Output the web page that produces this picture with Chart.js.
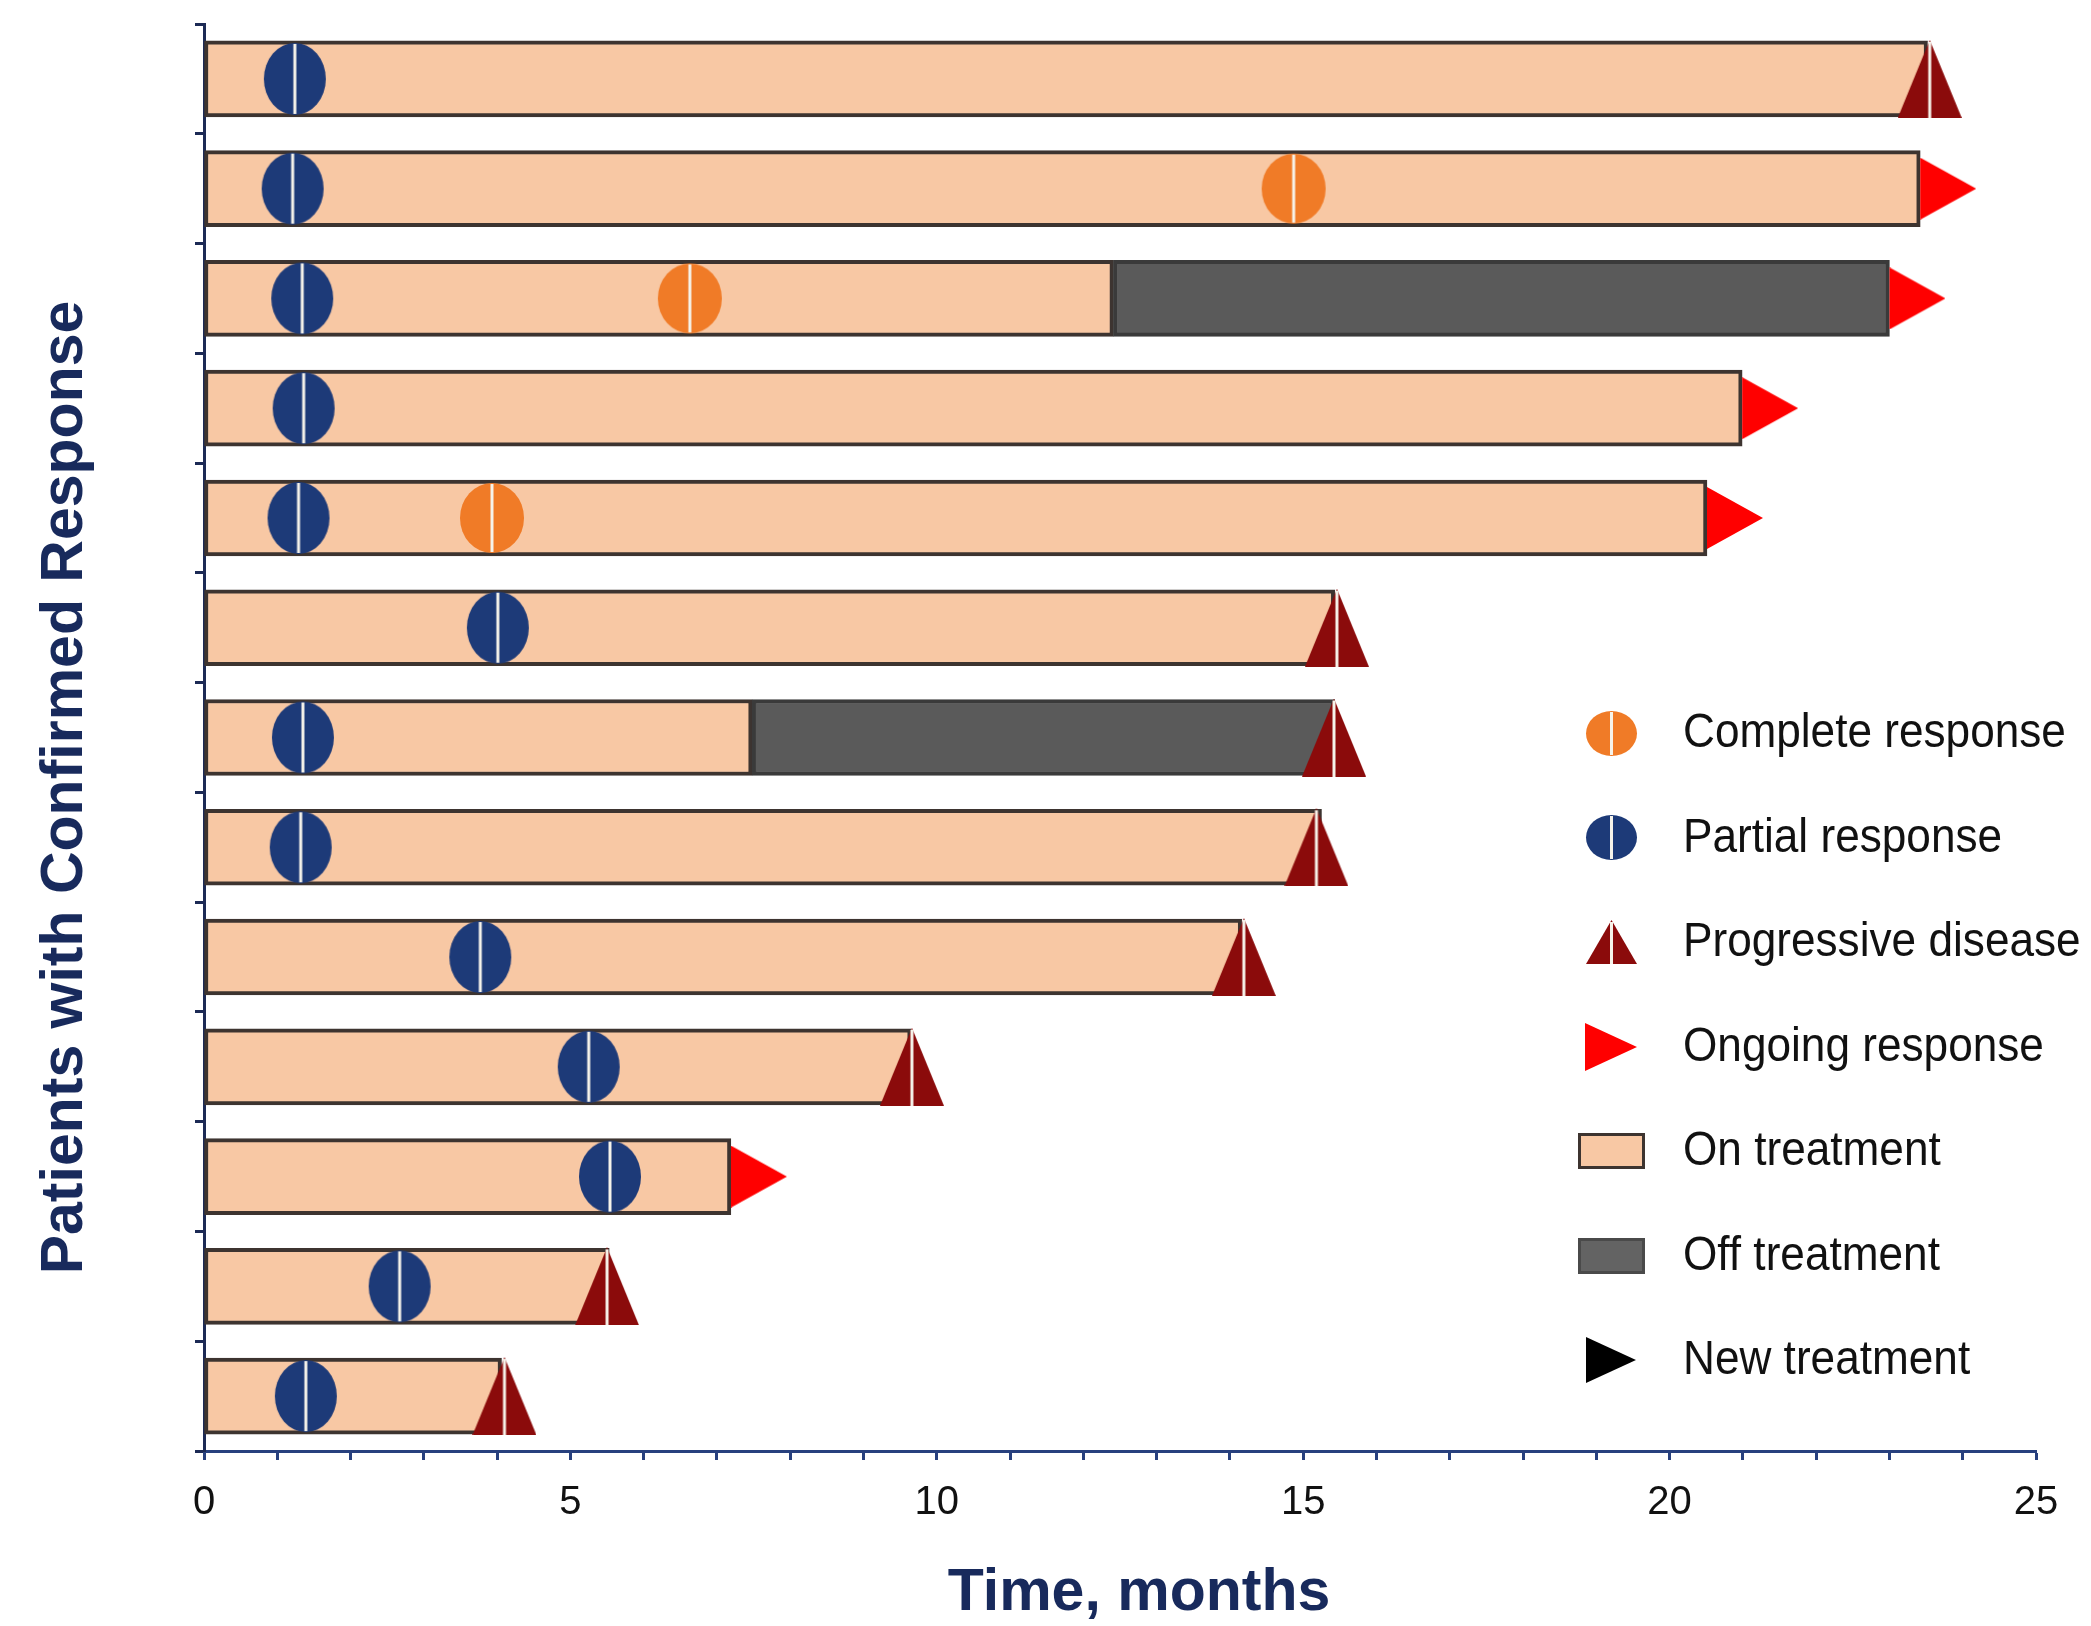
<!DOCTYPE html>
<html>
<head>
<meta charset="utf-8">
<title>Patients with Confirmed Response – time on treatment</title>
<script src="https://cdn.jsdelivr.net/npm/chart.js@4.4.1/dist/chart.umd.min.js"></script>
<style>
  html, body { margin: 0; padding: 0; background: #ffffff; }
  #wrap { width: 2091px; height: 1626px; }
  canvas { display: block; }
</style>
</head>
<body>
<div id="wrap"><canvas id="chart" width="2091" height="1626"></canvas></div>
<script>
// One row per patient, listed top to bottom
const patients = ['Pt 1', 'Pt 2', 'Pt 3', 'Pt 4', 'Pt 5', 'Pt 6', 'Pt 7',
                  'Pt 8', 'Pt 9', 'Pt 10', 'Pt 11', 'Pt 12', 'Pt 13'];

// Time on treatment (months from start)
const onTreatmentEnd = [23.52, 23.42, 12.41, 20.99, 20.51, 15.43, 7.48, 15.25, 14.16, 9.65, 7.19, 5.53, 4.06];

// Follow-up after stopping treatment (null = none)
const offTreatmentStart = [null, null, 12.41, null, null, null, 7.48, null, null, null, null, null, null];
const offTreatmentEnd   = [null, null, 23.00, null, null, null, 15.43, null, null, null, null, null, null];

// Response assessments, months (null = no event in that row)
const completeResponse   = [null, 14.87, 6.63, null, 3.93, null, null, null, null, null, null, null, null];
const partialResponse    = [1.24, 1.21, 1.34, 1.36, 1.29, 4.01, 1.35, 1.32, 3.77, 5.25, 5.54, 2.67, 1.39];
const progressiveDisease = [23.55, null, null, null, null, 15.46, 15.42, 15.18, 14.19, 9.66, null, 5.50, 4.10];
const ongoingResponse    = [null, 23.42, 23.00, 20.99, 20.51, null, null, null, null, null, 7.19, null, null];

// Time axis
const xMin = 0, xMax = 25, xStep = 1, xLabelEvery = 5;
const xTitle = 'Time, months';
const yTitle = 'Patients with Confirmed Response';

// Legend entries
const legendLabels = ['Complete response', 'Partial response', 'Progressive disease',
                      'Ongoing response', 'On treatment', 'Off treatment', 'New treatment'];

// ---- colours ----
const C = {
  onFill: '#f8c8a4', onBorder: '#3d3430',
  offFill: '#5a5a5a', offBorder: '#3a3a3a',
  cr: '#f07b27', pr: '#1d3a78', pd: '#8b0b0b', ongoing: '#ff0000', newTx: '#000000',
  split: '#f6f3ea', axisY: '#1c2a55', axisX: '#27407e', title: '#182a5c', text: '#111111'
};
const FONT = '"Liberation Sans", Arial, Helvetica, sans-serif';

// ---- marker glyphs (drawn once, used as Chart.js point styles) ----
function glyph(w, h, draw) {
  const c = document.createElement('canvas');
  c.width = w; c.height = h;
  draw(c.getContext('2d'), w, h);
  return c;
}
function splitLine(ctx, x, y0, y1) {
  ctx.strokeStyle = C.split; ctx.lineWidth = 3;
  ctx.beginPath(); ctx.moveTo(x, y0); ctx.lineTo(x, y1); ctx.stroke();
}
function ellipseGlyph(color, w, h) {
  return glyph(w, h, (ctx) => {
    ctx.fillStyle = color;
    ctx.beginPath(); ctx.ellipse(w / 2, h / 2, w / 2 - 1, h / 2 - 1, 0, 0, Math.PI * 2); ctx.fill();
    splitLine(ctx, w / 2, 2, h - 2);
  });
}
function triangleUpGlyph(color, w, h, withLine) {
  return glyph(w, h, (ctx) => {
    ctx.fillStyle = color;
    ctx.beginPath(); ctx.moveTo(w / 2, 0); ctx.lineTo(w, h); ctx.lineTo(0, h); ctx.closePath(); ctx.fill();
    if (withLine) splitLine(ctx, w / 2, 2, h);
  });
}
// right-pointing arrow; when anchored, the glyph's left edge sits on the point
function arrowGlyph(color, w, h, anchored) {
  const off = anchored ? w : 0;
  return glyph(w + off, h, (ctx) => {
    ctx.fillStyle = color;
    ctx.beginPath(); ctx.moveTo(off, 0); ctx.lineTo(off + w, h / 2); ctx.lineTo(off, h); ctx.closePath(); ctx.fill();
  });
}
function boxGlyph(fill, stroke, w, h) {
  return glyph(w, h, (ctx) => {
    ctx.fillStyle = stroke; ctx.fillRect(0, 0, w, h);
    ctx.fillStyle = fill; ctx.fillRect(3, 3, w - 6, h - 6);
  });
}

const plotGlyphs = {
  cr: ellipseGlyph(C.cr, 66, 72),
  pr: ellipseGlyph(C.pr, 64, 74),
  pd: triangleUpGlyph(C.pd, 64, 78, true),
  ongoing: arrowGlyph(C.ongoing, 56, 62, true)
};
const legendGlyphs = [
  ellipseGlyph(C.cr, 53, 47),
  ellipseGlyph(C.pr, 53, 47),
  triangleUpGlyph(C.pd, 51, 44, true),
  arrowGlyph(C.ongoing, 52, 48, false),
  boxGlyph(C.onFill, C.onBorder, 67, 36),
  boxGlyph('#636363', '#4a4a4a', 67, 36),
  arrowGlyph(C.newTx, 50, 46, false)
];

function eventPoints(values) {
  const pts = [];
  values.forEach((v, i) => { if (v !== null) pts.push({ x: v, y: patients[i] }); });
  return pts;
}
function markerSet(label, values, style) {
  return {
    type: 'scatter', label, data: eventPoints(values),
    pointStyle: style, pointRadius: 30, pointHoverRadius: 30,
    borderWidth: 0, backgroundColor: 'transparent', clip: false, order: 0
  };
}

// ---- axis titles and legend drawn over the plot ----
const overlay = {
  id: 'overlay',
  afterDraw(chart) {
    const { ctx, chartArea: a } = chart;

    ctx.save();
    ctx.font = 'bold 59px ' + FONT;
    ctx.fillStyle = C.title;
    ctx.textAlign = 'center';
    ctx.textBaseline = 'middle';
    // x-axis title, under the tick labels
    ctx.fillText(xTitle, (a.left + a.right) / 2 + 19, a.bottom + 143);
    // y-axis title, set a little below the axis midpoint
    ctx.translate(a.left - 138, (a.top + a.bottom) / 2 + 50);
    ctx.rotate(-Math.PI / 2);
    ctx.fillText(yTitle, 0, 0);
    ctx.restore();

    // legend, lower right of the plot area
    ctx.save();
    ctx.font = '48px ' + FONT;
    ctx.fillStyle = C.text;
    ctx.textAlign = 'left';
    ctx.textBaseline = 'middle';
    const iconX = a.right - 425, textX = a.right - 353;
    const firstY = a.top + 709, step = 104.5;
    legendLabels.forEach((label, i) => {
      const y = firstY + i * step;
      const g = legendGlyphs[i];
      ctx.drawImage(g, Math.round(iconX - g.width / 2), Math.round(y - g.height / 2));
      ctx.save();
      ctx.translate(textX, y + 1);
      ctx.scale(0.92, 1);
      ctx.fillText(label, 0, 0);
      ctx.restore();
    });
    ctx.restore();
  }
};

new Chart(document.getElementById('chart'), {
  type: 'bar',
  data: {
    labels: patients,
    datasets: [
      markerSet('Complete response', completeResponse, plotGlyphs.cr),
      markerSet('Partial response', partialResponse, plotGlyphs.pr),
      markerSet('Progressive disease', progressiveDisease, plotGlyphs.pd),
      markerSet('Ongoing response', ongoingResponse, plotGlyphs.ongoing),
      {
        type: 'bar', label: 'Off treatment',
        data: offTreatmentStart.map((s, i) => (s === null ? null : [s, offTreatmentEnd[i]])),
        backgroundColor: C.offFill, borderColor: C.offBorder, borderWidth: 4,
        borderSkipped: false, grouped: false, barThickness: 76, order: 2
      },
      {
        type: 'bar', label: 'On treatment',
        data: onTreatmentEnd.map((e) => [0, e]),
        backgroundColor: C.onFill, borderColor: C.onBorder, borderWidth: 4,
        borderSkipped: false, grouped: false, barThickness: 76, order: 3
      }
    ]
  },
  options: {
    indexAxis: 'y',
    responsive: false,
    animation: false,
    events: [],
    layout: { autoPadding: false, padding: { left: 0, top: 24, right: 55, bottom: 0 } },
    plugins: { legend: { display: false }, tooltip: { enabled: false } },
    scales: {
      x: {
        type: 'linear', position: 'bottom', min: xMin, max: xMax,
        ticks: {
          stepSize: xStep, autoSkip: false, maxRotation: 0,
          callback: (v) => (v % xLabelEvery === 0 ? String(v) : ''),
          font: { family: FONT, size: 40 }, color: C.text, padding: 19
        },
        grid: { drawOnChartArea: false, drawTicks: true, tickLength: 9, tickColor: C.axisX, tickWidth: 3 },
        border: { display: true, color: C.axisX, width: 3 },
        afterFit: (s) => { s.height = 175; }
      },
      y: {
        type: 'category', offset: true,
        ticks: { display: false },
        grid: { offset: true, drawOnChartArea: false, drawTicks: true, tickLength: 9, tickColor: C.axisY, tickWidth: 3 },
        border: { display: true, color: C.axisY, width: 3 },
        afterFit: (s) => { s.width = 204; }
      }
    }
  },
  plugins: [overlay]
});
</script>
</body>
</html>
